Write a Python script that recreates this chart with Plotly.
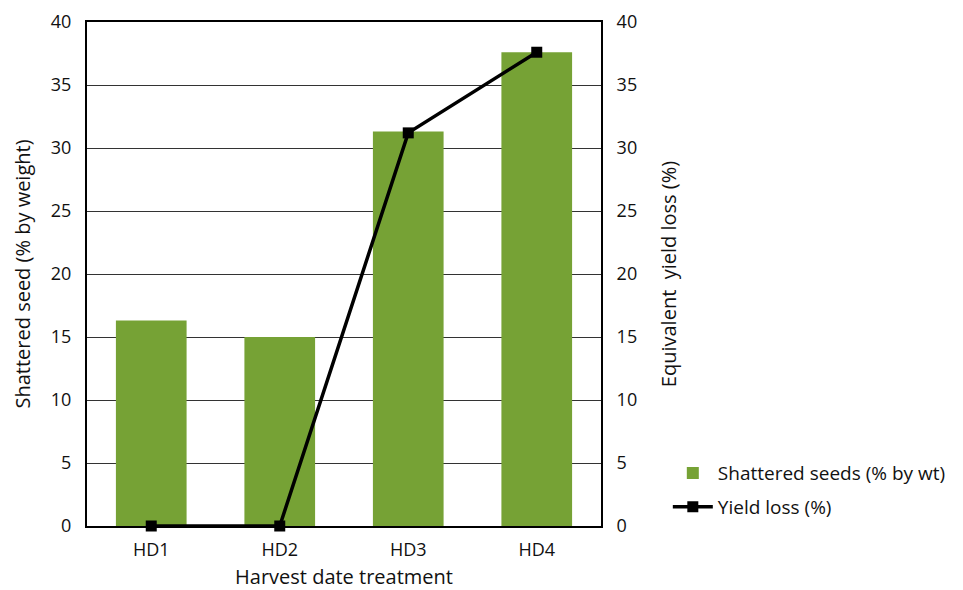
import plotly.graph_objects as go

categories = ["HD1", "HD2", "HD3", "HD4"]
shattered_seeds = [16.3, 15.0, 31.3, 37.6]
yield_loss = [0.0, 0.0, 31.2, 37.6]
y_ticks = [0, 5, 10, 15, 20, 25, 30, 35, 40]

FONT = "Open Sans, Noto Sans, sans-serif"
GREEN = "#76a235"

fig = go.Figure()
fig.add_trace(go.Bar(
    x=categories, y=shattered_seeds, name="Shattered seeds (% by wt)",
    legendgroup="seeds",
    marker=dict(color=GREEN, line=dict(width=0)), width=0.55,
))
fig.add_trace(go.Scatter(
    x=categories, y=yield_loss, name="Yield loss (%)", yaxis="y2",
    legendgroup="loss",
    mode="lines+markers", cliponaxis=False,
    line=dict(color="black", width=3.5),
    marker=dict(symbol="square", size=11, color="black"),
))

fig.update_layout(
    width=963, height=590,
    margin=dict(l=87, r=362, t=22, b=64),
    paper_bgcolor="white", plot_bgcolor="white",
    font=dict(family=FONT, size=18, color="#111"),
    showlegend=True,
    legend=dict(x=1.13, y=0.071, xanchor="left", yanchor="middle",
                font=dict(size=19, family=FONT), tracegroupgap=6,
                traceorder="grouped", itemwidth=40, bgcolor="rgba(0,0,0,0)"),
    xaxis=dict(
        title=dict(text="Harvest date treatment", standoff=15, font=dict(size=20)),
        automargin=False,
        showline=True, linecolor="black", linewidth=2, mirror=True,
        ticks="", showgrid=False, tickfont=dict(size=18), ticklabelstandoff=6,
    ),
    yaxis=dict(
        title=dict(text="Shattered seed (% by weight)", standoff=15, font=dict(size=20)),
        automargin=False,
        range=[0, 40], tickvals=y_ticks, showline=True, linecolor="black", linewidth=2,
        showgrid=True, gridcolor="#333", gridwidth=1.2, zeroline=False,
        ticks="", ticklabelstandoff=10, tickfont=dict(size=18),
    ),
    yaxis2=dict(
        title=dict(text="Equivalent\u00a0 yield loss (%)", standoff=26, font=dict(size=20)),
        automargin=False,
        range=[0, 40], tickvals=y_ticks, overlaying="y", side="right",
        showline=True, linecolor="black", linewidth=2, showgrid=False, zeroline=False,
        ticks="", ticklabelstandoff=10, tickfont=dict(size=18),
    ),
)

fig.write_html("out.html")
